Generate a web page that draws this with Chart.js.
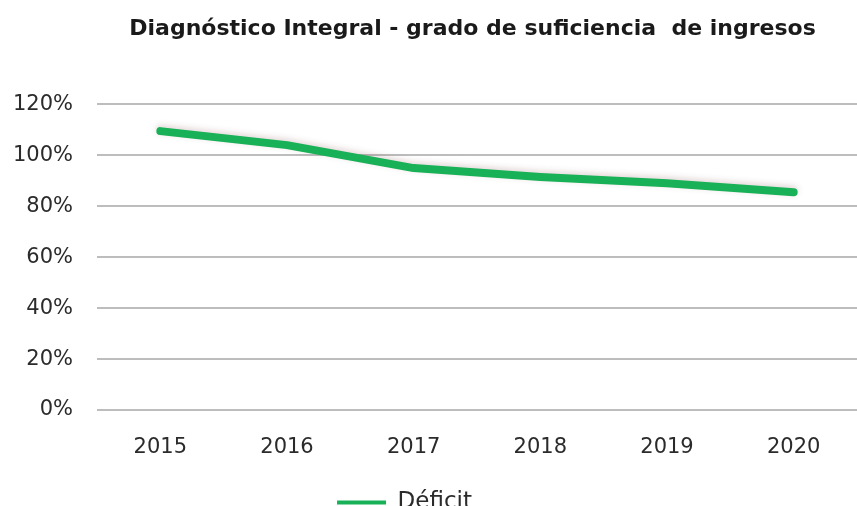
<!DOCTYPE html>
<html>
<head>
<meta charset="utf-8">
<script src="https://cdn.jsdelivr.net/npm/chart.js@4"></script>
<style>
  html, body { margin: 0; padding: 0; background: #fff; overflow: hidden; }
  #wrap { width: 857px; height: 524px; position: relative; }
</style>
</head>
<body>
<div id="wrap"><canvas id="chart"></canvas></div>
<script>
// Data =========================================
const years = ["2015", "2016", "2017", "2018", "2019", "2020"];
const deficit = [109.5, 104, 95, 91.5, 89, 85.5];
const yTicks = [0, 20, 40, 60, 80, 100, 120];

const titleText = "Diagnóstico Integral - grado de suficiencia  de ingresos";
const FONT = "'DejaVu Sans', sans-serif";
const LEGEND_SHIFT = -24;
const TITLE_SHIFT = 44;

// soft shadow under the line
const lineShadow = {
  id: "lineShadow",
  beforeDatasetDraw(chart) {
    const ctx = chart.ctx;
    ctx.save();
    ctx.shadowColor = "rgba(120, 60, 60, 0.22)";
    ctx.shadowBlur = 6;
    ctx.shadowOffsetY = -2;
  },
  afterDatasetDraw(chart) {
    chart.ctx.restore();
  },
};

// title is centred over the plot, legend a bit left of centre
const blockShift = {
  id: "blockShift",
  afterLayout(chart) {
    const lg = chart.legend;
    lg.left += LEGEND_SHIFT;
    lg.right += LEGEND_SHIFT;
    lg.legendHitBoxes.forEach((b) => (b.left += LEGEND_SHIFT));
    const t = chart.titleBlock;
    t.left += TITLE_SHIFT;
    t.right += TITLE_SHIFT;
  },
};

new Chart(document.getElementById("chart"), {
  type: "line",
  data: {
    labels: years,
    datasets: [
      {
        label: "Déficit",
        data: deficit,
        borderColor: "#19b157",
        backgroundColor: "#19b157",
        borderWidth: 8,
        pointRadius: 0,
        tension: 0,
        borderCapStyle: "round",
        borderJoinStyle: "round",
      },
    ],
  },
  options: {
    responsive: true,
    maintainAspectRatio: false,
    animation: false,
    layout: { padding: { top: 16, right: 0, left: 0, bottom: 0 } },
    plugins: {
      title: {
        display: true,
        text: titleText,
        color: "#1a1a1a",
        font: { family: FONT, size: 22, weight: "bold" },
        padding: { top: 0, bottom: 62 },
      },
      legend: {
        position: "bottom",
        labels: {
          color: "#2b2b2b",
          font: { family: FONT, size: 23 },
          boxWidth: 49,
          boxHeight: 4,
          padding: 10,
          generateLabels(chart) {
            const items = Chart.defaults.plugins.legend.labels.generateLabels(chart);
            items.forEach((it) => (it.lineWidth = 0));
            return items;
          },
        },
      },
      tooltip: { enabled: false },
    },
    scales: {
      x: {
        offset: true,
        grid: { display: false },
        border: { display: false },
        afterFit(s) {
          s.height = 71;
        },
        ticks: {
          color: "#2b2b2b",
          font: { family: FONT, size: 21 },
          padding: 17,
        },
      },
      y: {
        min: 0,
        max: 120,
        afterBuildTicks(s) {
          s.ticks = yTicks.map((v) => ({ value: v }));
        },
        afterFit(s) {
          s.width = 97;
        },
        grid: { color: "#bdbdbd", lineWidth: 2, drawTicks: false },
        border: { display: false },
        ticks: {
          color: "#2b2b2b",
          font: { family: FONT, size: 21 },
          padding: 24,
          callback: (v) => v + "%",
        },
      },
    },
  },
  plugins: [lineShadow, blockShift],
});
</script>
</body>
</html>
